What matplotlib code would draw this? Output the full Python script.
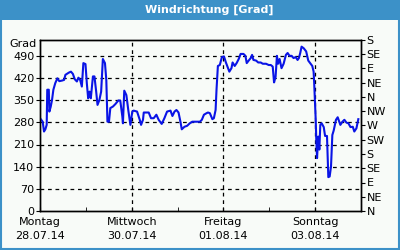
import matplotlib
matplotlib.use("Agg")
import matplotlib.pyplot as plt
from matplotlib.patches import Rectangle

# hours since 28.07.14 00:00 and wind direction in degrees (unwrapped)
hours = [0.4, 1.4, 2.1, 2.8, 3.5, 3.8, 4.6, 4.9, 5.6, 6.3, 7.0, 8.0, 9.1, 10.1,
         11.6, 12.6, 13.3, 15.1, 16.2, 17.2, 18.2, 19.3, 20.1, 21.0, 21.9, 22.7,
         23.8, 24.5, 25.2, 25.9, 26.6, 27.7, 28.5, 29.4, 30.1, 31.1, 32.0, 32.9,
         34.0, 34.7, 35.3, 36.1, 36.8, 38.2, 39.5, 41.0, 42.0, 43.1, 43.4, 44.1,
         45.2, 46.2, 47.3, 48.3, 49.0, 50.8, 52.2, 52.9, 53.9, 54.3, 56.9, 58.1,
         59.5, 60.9, 62.1, 63.7, 65.1, 66.5, 68.3, 69.3, 70.4, 71.4, 72.5, 73.5,
         74.2, 75.6, 77.0, 78.4, 79.7, 81.6, 83.7, 84.7, 85.8, 87.2, 87.9, 88.9,
         90.2, 91.0, 91.9, 92.4, 93.1, 94.1, 95.2, 96.3, 97.3, 98.4, 99.1, 100.2,
         100.8, 101.9, 102.9, 104.0, 105.0, 106.5, 107.5, 108.2, 109.2, 110.3,
         111.0, 111.7, 113.1, 114.2, 115.5, 116.6, 118.3, 119.7, 120.8, 121.8,
         122.5, 123.3, 124.0, 124.6, 125.4, 126.4, 127.5, 128.7, 129.6, 130.6,
         131.7, 132.7, 133.8, 134.8, 135.5, 136.2, 136.9, 138.0, 139.3, 140.4,
         141.4, 142.5, 143.2, 143.5, 143.9, 144.3, 144.6, 145.0, 145.6, 146.2,
         146.7, 147.4, 148.5, 149.2, 150.2, 150.9, 151.6, 152.3, 153.0, 153.7,
         154.9, 155.8, 157.2, 158.3, 159.3, 160.4, 161.4, 162.5, 163.7, 164.5,
         165.6, 166.6]
degrees = [290, 282, 251, 258, 272, 383, 383, 314, 329, 351, 383, 404, 419, 410,
           412, 414, 430, 437, 440, 433, 416, 409, 421, 414, 393, 467,
           464, 404, 356, 377, 356, 425, 425, 377, 335, 351, 377, 480,
           467, 414, 282, 282, 325, 330, 338, 349, 349, 298, 277, 380,
           366, 319, 272, 314, 317, 314, 288, 272, 288, 311, 311, 293,
           293, 304, 288, 275, 293, 314, 317, 300, 314, 319, 311, 282,
           258, 266, 269, 277, 282, 282, 282, 288, 304, 309, 311, 309,
           290, 293, 319, 385, 458, 461, 486, 488, 469, 451, 440, 451,
           469, 458, 467, 480, 496, 496, 490, 467, 475, 483,
           493, 477, 475, 469, 469, 465, 465, 461, 461, 456,
           406, 424, 490, 465, 480, 451, 465, 493, 499, 490,
           490, 483, 486, 477, 483, 499, 519, 514, 504, 475,
           467, 458, 440, 404, 346, 288, 224, 167, 235, 194,
           272, 277, 265, 237, 237, 107, 109, 140, 240, 254,
           288, 296, 272, 282, 288, 279, 277, 265, 266, 251,
           261, 290]

day_names = ["Montag", "Mittwoch", "Freitag", "Sonntag"]
day_dates = ["28.07.14", "30.07.14", "01.08.14", "03.08.14"]
left_ticks = [0, 70, 140, 210, 280, 350, 420, 490]
compass = ["N", "NE", "E", "SE", "S", "SW", "W", "NW",
           "N", "NE", "E", "SE", "S"]

BLUE_BAR = "#3c91c8"
BG = "#f8fbf8"

plt.rcParams.update({"font.family": "DejaVu Sans", "font.size": 8})

fig = plt.figure(figsize=(4, 2.5), dpi=100, facecolor=BG)

# frame and title bar
fig.patches.append(Rectangle((0, 0.92), 1, 0.08, transform=fig.transFigure,
                             facecolor=BLUE_BAR, edgecolor="none", zorder=0))
fig.patches.append(Rectangle((0.0015, 0.003), 0.995, 0.994, transform=fig.transFigure,
                             facecolor="none", edgecolor=BLUE_BAR, lw=1.5, zorder=0))
fig.text(0.523, 0.96, "Windrichtung [Grad]", color="white", fontweight="bold",
         ha="center", va="center", fontsize=8)

ax = fig.add_axes([0.1, 0.156, 0.8025, 0.684], facecolor=BG)
ax.plot(hours, degrees, color="#0a14e6", lw=1.5, zorder=3)

ax.set_xlim(0, 168)
ax.set_ylim(0, 540)
ax.set_xticks([0, 48, 96, 144])
ax.set_xticklabels([f"{n}\n{d}" for n, d in zip(day_names, day_dates)],
                   linespacing=1.6)
ax.set_xticks([24, 72, 120], minor=True)
ax.tick_params(axis="x", which="both", direction="in", length=3, pad=4)
ax.set_yticks(left_ticks)
ax.tick_params(axis="y", direction="out", length=3, pad=1)
for y in left_ticks[1:]:
    ax.axhline(y, color="black", ls=(0, (3, 3)), lw=0.9, zorder=1)
for x in [48, 96, 144]:
    ax.axvline(x, color="black", ls=(0, (3, 3)), lw=0.9, zorder=1)
ax.text(-0.012, 0.975, "Grad", transform=ax.transAxes, ha="right", va="center")

for s in ax.spines.values():
    s.set_linewidth(1.0)

ax2 = ax.twinx()
ax2.set_ylim(0, 540)
ax2.set_yticks(range(0, 541, 45))
ax2.set_yticklabels(compass)
ax2.tick_params(axis="y", direction="out", length=3, pad=1)
for s in ax2.spines.values():
    s.set_linewidth(1.0)

fig.savefig("out.png", dpi=100, facecolor=BG)
